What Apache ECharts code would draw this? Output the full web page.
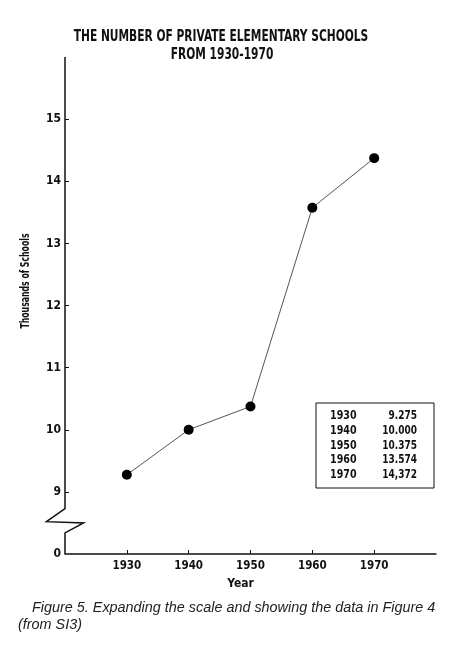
<!DOCTYPE html>
<html>
<head>
<meta charset="utf-8">
<title>Private Elementary Schools 1930-1970</title>
<script src="https://cdn.jsdelivr.net/npm/echarts@6/dist/echarts.min.js"></script>
<style>
  html, body { margin: 0; padding: 0; background: #fff; }
  #chart { width: 474px; height: 648px; }
</style>
</head>
<body>
<div id="chart"></div>
<script>
  var years = [1930, 1940, 1950, 1960, 1970];
  var schools = [9.275, 10.0, 10.375, 13.574, 14.372];
  // table column as printed in the figure
  var tableValues = ['9.275', '10.000', '10.375', '13.574', '14,372'];
  var yTicks = [9, 10, 11, 12, 13, 14, 15];
  var breakValue = 8;      // the bottom of the axis stands for 0
  var breakLabel = '0';

  var narrow = "'Liberation Sans Narrow', 'DejaVu Sans Condensed', sans-serif";
  var ink = '#111';
  var myChart = echarts.init(document.getElementById('chart'));

  var tableRows = [];
  years.forEach(function (y, i) {
    tableRows.push({ type: 'text', x: 14, y: 13 + i * 14.7, scaleX: 0.85, style: { text: String(y), font: 'bold 12.5px ' + narrow, fill: ink, verticalAlign: 'middle' } });
    tableRows.push({ type: 'text', x: 101, y: 13 + i * 14.7, scaleX: 0.8, style: { text: tableValues[i], font: 'bold 12.5px ' + narrow, fill: ink, align: 'right', verticalAlign: 'middle' } });
  });

  var option = {
    backgroundColor: '#fff',
    animation: false,
    title: { show: false, text: 'THE NUMBER OF PRIVATE ELEMENTARY SCHOOLS FROM 1930-1970' },
    grid: {
      left: 65,
      right: 38,
      top: 57,
      bottom: 94
    },
    xAxis: {
      type: 'value',
      min: 1920,
      max: 1980,
      interval: 10,
      name: 'Year',
      nameLocation: 'middle',
      nameGap: 24,
      nameTextStyle: { fontFamily: narrow, fontWeight: 'bold', fontSize: 12, color: ink, padding: [0, 20, 0, 0] },
      splitLine: { show: false },
      axisLine: { lineStyle: { color: ink, width: 1.5 } },
      axisTick: { inside: true, length: 4, customValues: years, lineStyle: { color: ink } },
      axisLabel: {
        customValues: years, margin: 6, fontFamily: narrow, fontWeight: 'bold', fontSize: 11.5, color: ink,
        formatter: function (v) { return String(v); }
      }
    },
    yAxis: {
      type: 'value',
      min: breakValue,
      max: 16,
      interval: 1,
      splitLine: { show: false },
      axisLine: { show: false },
      axisTick: { inside: true, length: 4, customValues: yTicks, lineStyle: { color: ink } },
      axisLabel: {
        customValues: [breakValue].concat(yTicks),
        margin: 4,
        fontFamily: narrow,
        fontWeight: 'bold',
        fontSize: 12,
        color: ink,
        formatter: function (v) { return v === breakValue ? breakLabel : String(v); }
      }
    },
    graphic: [
      {
        type: 'text', x: 221, y: 37, scaleX: 0.79,
        style: { text: 'THE NUMBER OF PRIVATE ELEMENTARY SCHOOLS', font: 'bold 15px ' + narrow, fill: ink, align: 'center', verticalAlign: 'middle' }
      },
      {
        type: 'text', x: 222, y: 55, scaleX: 0.79,
        style: { text: 'FROM 1930-1970', font: 'bold 15px ' + narrow, fill: ink, align: 'center', verticalAlign: 'middle' }
      },
      {
        type: 'text', x: 26, y: 281, rotation: Math.PI / 2, scaleX: 0.72,
        style: { text: 'Thousands of Schools', font: 'bold 12px ' + narrow, fill: ink, align: 'center', verticalAlign: 'middle' }
      },
      {
        type: 'group', x: 316, y: 403,
        children: [
          { type: 'rect', shape: { x: 0, y: 0, width: 118, height: 85 }, style: { fill: '#fff', stroke: ink, lineWidth: 1 } }
        ].concat(tableRows)
      },
      {
        type: 'text', x: 32, y: 608,
        style: { text: 'Figure 5. Expanding the scale and showing the data in Figure 4', font: 'italic 14.4px "Liberation Sans", Arial, sans-serif', fill: '#222', verticalAlign: 'middle' }
      },
      {
        type: 'text', x: 18, y: 625,
        style: { text: '(from SI3)', font: 'italic 14.4px "Liberation Sans", Arial, sans-serif', fill: '#222', verticalAlign: 'middle' }
      }
    ],
    series: [
      {
        name: 'Schools',
        type: 'line',
        data: years.map(function (y, i) { return [y, schools[i]]; }),
        symbol: 'circle',
        symbolSize: 10,
        itemStyle: { color: '#000' },
        lineStyle: { color: '#555', width: 1 },
        z: 3
      }
    ]
  };

  myChart.setOption(option);

  // broken y axis: straight from the top down to just under 9, a zigzag, then down to the 0 line
  var breakPts = [[1920, 16], [1920, 8.73], [1917, 8.52], [1923, 8.5], [1920, 8.34], [1920, breakValue]];
  var px = breakPts.map(function (p) { return myChart.convertToPixel({ gridIndex: 0 }, p); });
  myChart.setOption({
    graphic: [{ id: 'yAxisBreak', type: 'polyline', z: 2, shape: { points: px }, style: { stroke: ink, lineWidth: 1.5, fill: null } }]
  });
</script>
</body>
</html>
